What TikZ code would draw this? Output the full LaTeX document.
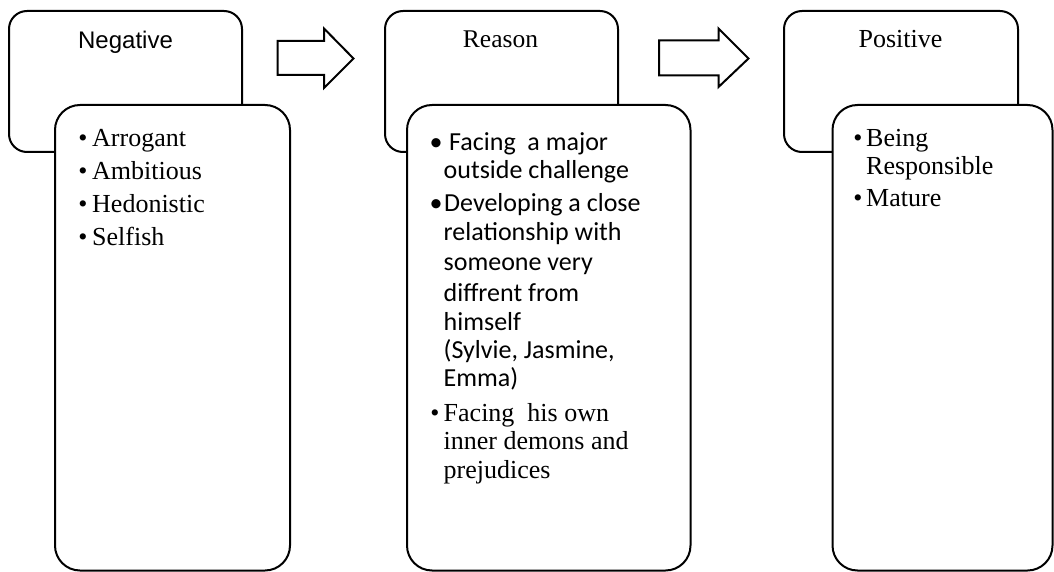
\documentclass[tikz,border=0pt]{standalone}
\usepackage{fontspec}
\setmainfont{Liberation Serif}
\newfontfamily\arialf{Liberation Sans}
\newfontfamily\calibf{Carlito}
\begin{document}
\begin{tikzpicture}[x=1pt,y=-1pt,
  topbox/.style={draw=black,line width=2pt,rounded corners=18pt,fill=white},
  listbox/.style={draw=black,line width=2pt,rounded corners=25pt,fill=white},
  blockarrow/.style={draw=black,line width=2pt,fill=white,line join=miter},
  ttl/.style={inner sep=0pt,anchor=base},
  tms/.style={inner sep=0pt,anchor=base west,font=\fontsize{26}{28}\selectfont},
  cal/.style={inner sep=0pt,anchor=base west,font=\calibf\fontsize{26}{28}\selectfont},
  tbul/.style={inner sep=0pt,anchor=base,font=\fontsize{26}{28}\selectfont},
  cbul/.style={inner sep=0pt,anchor=base,font=\calibf\fontsize{26}{28}\selectfont}]
\useasboundingbox (0,0) rectangle (1054,572);

% ---------- Panel 1: Negative ----------
\path[topbox] (9,11) rectangle (242,152);
\node[ttl,font=\arialf\fontsize{24}{28}\selectfont] (negT) at (125.5,49) {Negative};
\path[listbox] (55,105) rectangle (290,570.5);
\node[tbul] (nb1) at (83,147) {•};
\node[tms] (n1) at (92,147) {Arrogant};
\node[tbul] (nb2) at (83,179.5) {•};
\node[tms] (n2) at (92,179.5) {Ambitious};
\node[tbul] (nb3) at (83,212) {•};
\node[tms] (n3) at (92,212) {Hedonistic};
\node[tbul] (nb4) at (83,245) {•};
\node[tms] (n4) at (92,245) {Selfish};

% ---------- Arrow 1 ----------
\path[blockarrow] (277.5,41) -- (324,41) -- (324,28.5) -- (353.5,58.5)
  -- (324,88) -- (324,75) -- (277.5,75) -- cycle;

% ---------- Panel 2: Reason ----------
\path[topbox] (385,11) rectangle (618,152);
\node[ttl,font=\fontsize{25.5}{28}\selectfont] (reaT) at (500.5,48) {Reason};
\path[listbox] (407,105) rectangle (690.5,570.5);
\node[cbul] (rb1) at (436,150.7) {•};
\node[cal] (r1) at (449,150.7) {Facing\ \ a major};
\node[cal] (r2) at (443.5,178.3) {outside challenge};
\node[cbul] (rb2) at (436,211.7) {•};
\node[cal] (r3) at (444,211.7) {Developing a close};
\node[cal] (r4) at (443.5,240.7) {relationship with};
\node[cal] (r5) at (443.5,270) {someone very};
\node[cal] (r6) at (443.5,301.7) {diffrent from};
\node[cal] (r7) at (443.5,330) {himself};
\node[cal] (r8) at (443.5,358.3) {(Sylvie, Jasmine,};
\node[cal] (r9) at (443.5,386.7) {Emma)};
\node[tbul] (rb3) at (435,421.7) {•};
\node[tms] (r10) at (443.5,421.7) {Facing\ \ his own};
\node[tms] (r11) at (443.5,449) {inner demons and};
\node[tms] (r12) at (443.5,478) {prejudices};

% ---------- Arrow 2 ----------
\path[blockarrow] (659,40.5) -- (718.5,40.5) -- (718.5,28.5) -- (748.5,58.5)
  -- (718.5,87) -- (718.5,75.5) -- (659,75.5) -- cycle;

% ---------- Panel 3: Positive ----------
\path[topbox] (784,11) rectangle (1018,152);
\node[ttl,font=\fontsize{26}{28}\selectfont] (posT) at (900.5,48) {Positive};
\path[listbox] (832.5,105) rectangle (1052.5,570.5);
\node[tbul] (pb1) at (858,146.7) {•};
\node[tms] (p1) at (866,146.7) {Being};
\node[tms] (p2) at (866,174.3) {Responsible};
\node[tbul] (pb2) at (858,206.7) {•};
\node[tms] (p3) at (866,206.7) {Mature};
\end{tikzpicture}
\end{document}
